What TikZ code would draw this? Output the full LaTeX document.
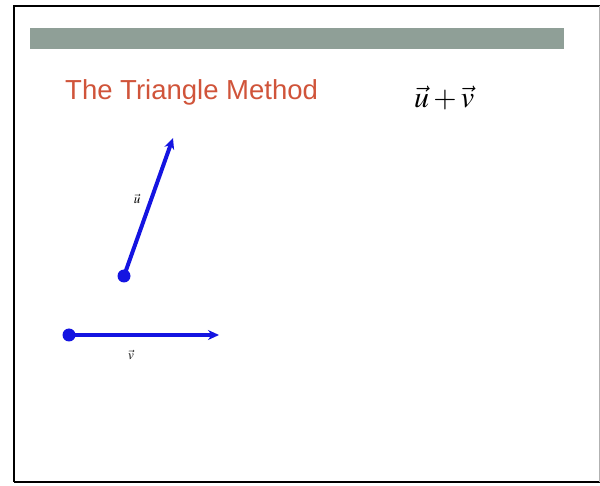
\documentclass[tikz,border=0pt]{standalone}
\usepackage{mathptmx}
\usepackage{fontspec}
\setsansfont{Liberation Sans}
\usetikzlibrary{positioning,arrows.meta}
\definecolor{bargray}{RGB}{143,159,151}
\definecolor{titlered}{RGB}{208,84,58}
\definecolor{vecblue}{RGB}{20,20,225}
\tikzset{
  vec/.style={draw=vecblue, line width=4pt, -{Stealth[length=11pt,width=10pt]}},
  tail/.style={circle, fill=vecblue, inner sep=0pt, minimum size=13pt},
  veclabel/.style={font=\fontsize{13}{15}\selectfont, inner sep=1pt}
}
\begin{document}
\begin{tikzpicture}[x=1pt, y=1pt]
  \useasboundingbox (0,0) rectangle (600,485);
  % Frame and bar
  \draw[line width=2pt] (14,3) -- (14,479) -- (600,479);
  \draw[line width=2pt] (14,3) -- (600,3);
  \draw[gray!60, line width=1pt] (599,3) -- (599,479);
  \fill[bargray] (30,436) rectangle (564,457);

  % Nodes
  \node[anchor=base west, text=titlered, font=\sffamily\fontsize{27.5}{30}\selectfont, inner sep=0pt] (title) at (65,385) {The Triangle Method};
  \node[anchor=base west, font=\fontsize{30}{34}\selectfont, inner sep=0pt] (sum) at (414,377) {$\vec{u}+\vec{v}$};
  \node[tail] (tailu) at (124,209) {};
  \coordinate (headu) at (173,347);
  \node[tail] (tailv) at (69,150) {};
  \coordinate (headv) at (219,150);
  \node[veclabel] (labelu) at (137,286) {$\vec{u}$};
  \node[veclabel] (labelv) at (131,130) {$\vec{v}$};

  % Edges
  \draw[vec] (tailu.center) -- (headu);
  \draw[vec] (tailv.center) -- (headv);
\end{tikzpicture}
\end{document}
